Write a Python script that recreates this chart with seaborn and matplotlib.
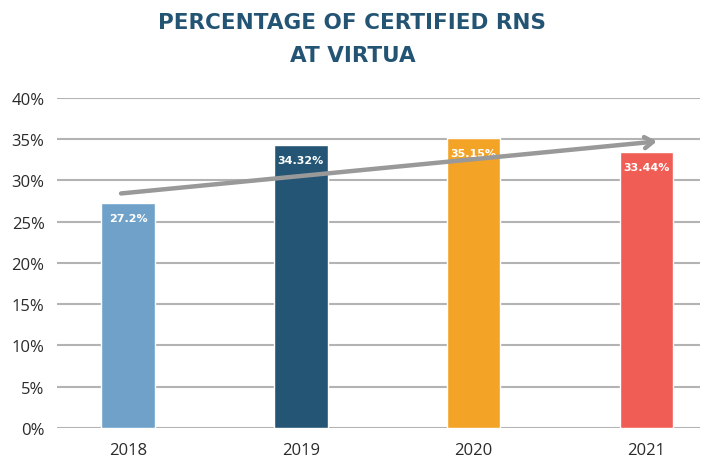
import matplotlib
matplotlib.use("Agg")
import matplotlib.pyplot as plt
import pandas as pd
import seaborn as sns

# data
years = ["2018", "2019", "2020", "2021"]
pct = [27.2, 34.32, 35.15, 33.44]
bar_colors = ["#6fa1c9", "#245574", "#f3a427", "#f05d55"]
trend_pct = [28.4, 34.7]   # hand drawn trend arrow, start / end

df = pd.DataFrame({"year": years, "pct": pct})

sns.set_style("white")
plt.rcParams["font.family"] = ["Open Sans", "DejaVu Sans"]

fig = plt.figure(figsize=(7.05, 4.64), dpi=100)
ax = fig.add_axes([0.081, 0.0754, 0.912, 0.712])

sns.barplot(data=df, x="year", y="pct", hue="year", palette=bar_colors,
            width=0.31, legend=False, saturation=1, ax=ax, zorder=3)

ax.set_ylim(0, 40)
ax.set_xlim(-0.41, 3.31)
ax.set_yticks(range(0, 41, 5))
ax.set_yticklabels([f"{v}%" for v in range(0, 41, 5)])
ax.yaxis.grid(True, color="#b3b3b3", linewidth=1.5, zorder=0)
ax.set_axisbelow(True)
sns.despine(ax=ax, left=True, bottom=True, top=True, right=True)
ax.tick_params(axis="both", length=0, labelsize=12, colors="#2b2b2b")
ax.tick_params(axis="y", pad=9)
ax.tick_params(axis="x", pad=10)
ax.set_xlabel("")
ax.set_ylabel("")

# value labels inside the top of each bar
for i, v in enumerate(pct):
    ax.annotate(f"{v:g}%", (i, v), xytext=(0, -15), textcoords="offset pixels",
                ha="center", va="center", color="white", fontsize=8,
                fontweight="bold", family="DejaVu Sans", zorder=5)

# trend arrow
ax.annotate("", xy=(3.06, trend_pct[1]), xytext=(-0.04, trend_pct[0]),
            arrowprops=dict(arrowstyle="->,head_length=0.6,head_width=0.4",
                            color="#999999", lw=3.2, shrinkA=0, shrinkB=0),
            zorder=6)

title_kw = dict(ha="center", va="center", fontsize=15.5, fontweight="bold",
                color="#245474", family="DejaVu Sans")
fig.text(0.5, 0.950, "PERCENTAGE OF CERTIFIED RNS", **title_kw)
fig.text(0.5, 0.880, "AT VIRTUA", **title_kw)

fig.savefig("out.png", dpi=100)
